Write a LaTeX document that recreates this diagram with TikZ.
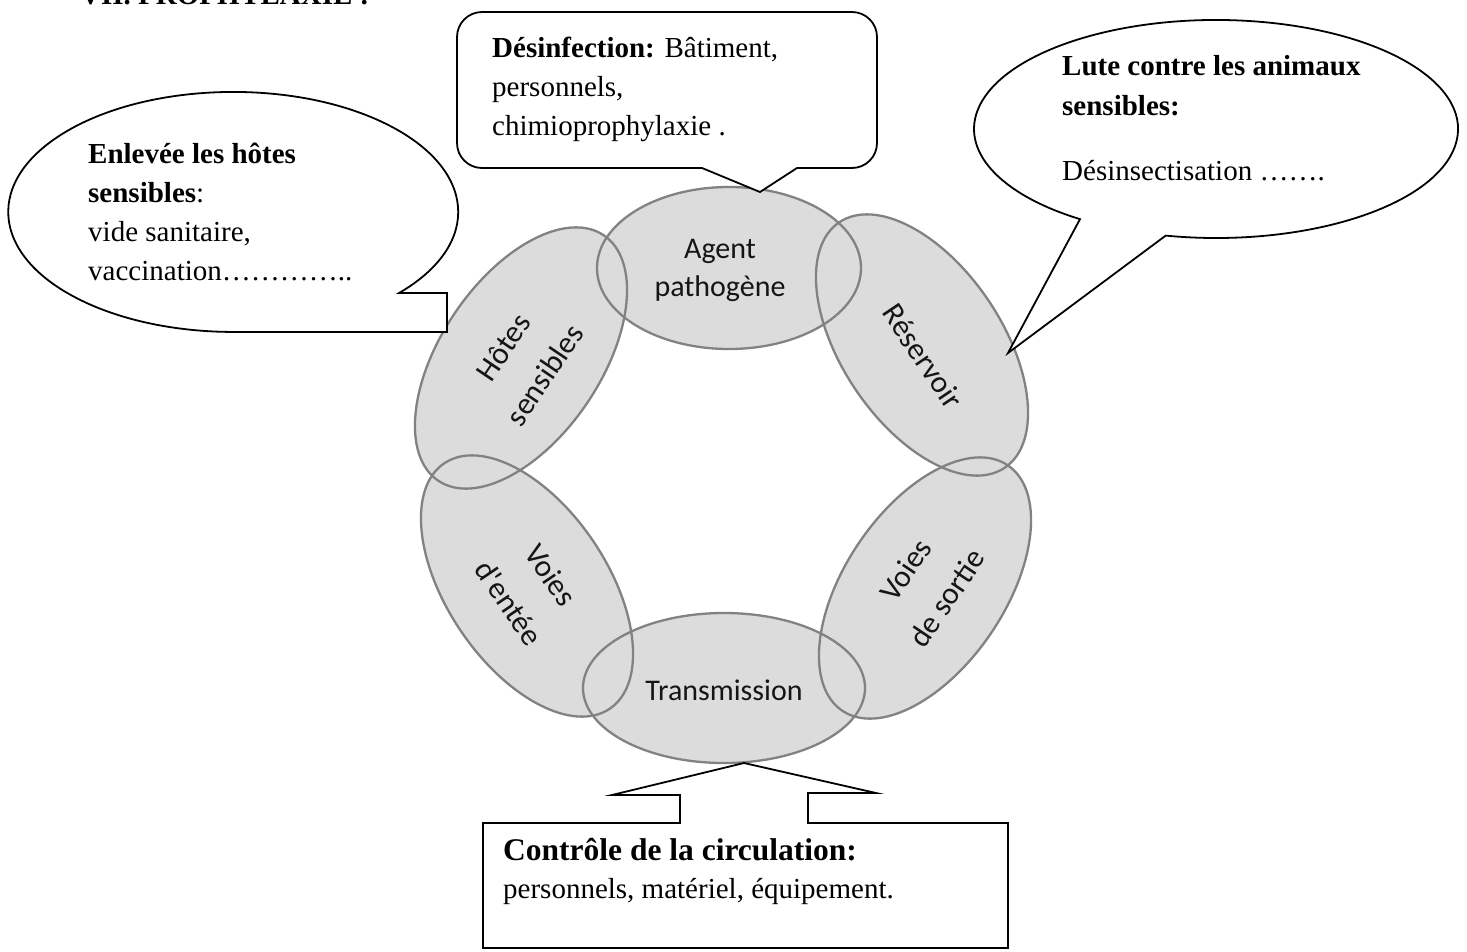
\documentclass[tikz,border=0pt]{standalone}
\usepackage{fontspec}
\setmainfont{Liberation Serif}
\newfontfamily\ringfont{Carlito}
\definecolor{ringfill}{HTML}{DCDCDC}
\definecolor{ringline}{HTML}{828282}
\definecolor{inkc}{HTML}{151515}
\tikzset{
  ringshape/.style={fill=ringfill},
  ringedge/.style={draw=ringline, line width=2.3pt},
  ringtext/.style={font=\ringfont\fontsize{30}{38}\selectfont, align=center, text=inkc, inner sep=0pt},
  tilttext/.style={font=\ringfont\fontsize{31}{50}\selectfont, align=center, text=inkc, inner sep=0pt},
  callout/.style={draw=black, line width=1.8pt, fill=white, line join=miter},
  calltext/.style={font=\fontsize{29}{39}\selectfont, anchor=base west, inner sep=0pt, text=black},
}
\begin{document}
\begin{tikzpicture}[x=1pt,y=1pt]
\useasboundingbox (0,0) rectangle (1467,-951);
\clip (0,0) rectangle (1467,-951);
\fill[white] (0,0) rectangle (1467,-951);

% title (cut off at top)
\node[calltext] (title) at (80,-4.5) {\textbf{VII. PROPHYLAXIE :}};

% ring of ellipses
\def\ringlist{729/-268/0/132/81, 922/-345/-56/148/80, 925/-588/56/148/80, 724/-688/0/141/75, 527/-586/-56/148/80, 521/-358/56/148/80}
\foreach \cx/\cy/\r/\a/\b in \ringlist
  \fill[ringshape, rotate around={\r:(\cx,\cy)}] (\cx,\cy) ellipse [x radius=\a, y radius=\b];
\foreach \cx/\cy/\r/\a/\b in \ringlist
  \draw[ringedge, rotate around={\r:(\cx,\cy)}] (\cx,\cy) ellipse [x radius=\a, y radius=\b];

\node[ringtext] (agent) at (720,-270) {Agent\\pathogène};
\node[tilttext, rotate=-56] (reservoir) at (923,-356) {Réservoir};
\node[tilttext, rotate=56] (sortie) at (926,-584) {Voies\\de sortie};
\node[ringtext] (transmission) at (724,-690) {Transmission};
\node[tilttext, rotate=-56] (entree) at (530,-589) {Voies\\d'entée};
\node[tilttext, rotate=56] (hotes) at (524,-361) {Hôtes\\sensibles};

% top callout
\draw[callout] (760,-192) -- (702,-168) -- (482,-168) arc[start angle=270, end angle=180, radius=25]
  -- (457,-37) arc[start angle=180, end angle=90, radius=25]
  -- (852,-12) arc[start angle=90, end angle=0, radius=25]
  -- (877,-143) arc[start angle=0, end angle=-90, radius=25]
  -- (797,-168) -- cycle;
% left callout
\draw[callout] (399.1,-293) arc[start angle=-42.5, end angle=270, x radius=225, y radius=120] -- (447,-332) -- (447,-293) -- cycle;
% right callout
\draw[callout] (1165.7,-235.6) arc[start angle=258, end angle=595.8, x radius=242, y radius=109] -- (1008,-353) -- cycle;
% bottom callout
\draw[callout] (483,-823) -- (680,-823) -- (680,-795) -- (612,-795) -- (744,-763) -- (876,-793) -- (808,-793) -- (808,-823) -- (1008,-823) -- (1008,-948) -- (483,-948) -- cycle;

% callout texts
\node[calltext] (d1) at (492,-57) {\textbf{Désinfection:} Bâtiment,};
\node[calltext] (d2) at (492,-96) {personnels,};
\node[calltext] (d3) at (492,-135) {chimioprophylaxie .};

\node[calltext] (e1) at (88,-163) {\textbf{Enlevée les hôtes}};
\node[calltext] (e2) at (88,-202) {\textbf{sensibles}:};
\node[calltext] (e3) at (88,-241) {vide sanitaire,};
\node[calltext] (e4) at (88,-280) {vaccination…………..};

\node[calltext] (l1) at (1062,-75) {\textbf{Lute contre les animaux}};
\node[calltext] (l2) at (1062,-115) {\textbf{sensibles:}};
\node[calltext] (l3) at (1062,-180) {Désinsectisation …….};

\node[calltext] (c1) at (503,-860) {\fontsize{31.5}{39}\selectfont\textbf{Contrôle de la circulation:}};
\node[calltext] (c2) at (503,-898) {personnels, matériel, équipement.};
\end{tikzpicture}
\end{document}
